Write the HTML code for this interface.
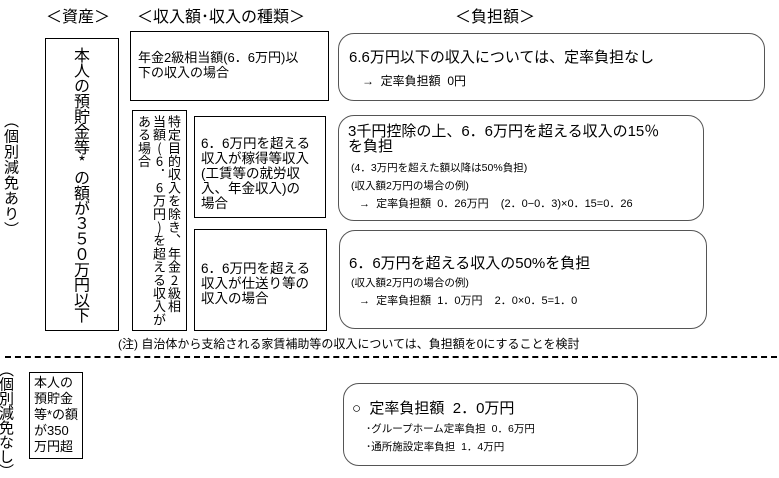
<!DOCTYPE html>
<html><head><meta charset="utf-8"><style>
body{margin:0;width:779px;height:474px;background:#fff;position:relative;overflow:hidden;font-family:"Liberation Sans","Noto Sans CJK JP",sans-serif;color:#000}
.a{position:absolute}
.b{position:absolute;border:1.3px solid #000;box-sizing:border-box}
.r{position:absolute;border:1.3px solid #555;border-radius:16px;box-sizing:border-box}
.v{writing-mode:vertical-rl;text-orientation:upright;font-family:"Noto Sans CJK JP",sans-serif;white-space:nowrap}
.vm{writing-mode:vertical-rl;font-family:"Noto Sans CJK JP",sans-serif;white-space:nowrap}
</style></head><body>
<div class="a" style="left:46px;top:3px;font-size:16px">＜資産＞</div>
<div class="a" style="left:137px;top:3px;font-size:16px">＜収入額･収入の種類＞</div>
<div class="a" style="left:455px;top:3px;font-size:16px">＜負担額＞</div>

<div class="a vm" style="left:3px;top:113px;font-size:15px;line-height:16px;letter-spacing:0.5px">（個別減免あり）</div>

<div class="b" style="left:45px;top:38px;width:74px;height:293px"></div>
<div class="a v" style="left:73px;top:47px;font-size:16px;line-height:18px;letter-spacing:-0.7px">本人の預貯金等*の額が３５０万円以下</div>

<div class="b" style="left:130px;top:31px;width:199px;height:70px"></div>
<div class="a" style="left:138px;top:50px;font-size:13px;line-height:15px;width:190px">年金2級相当額(6．6万円)以<br>下の収入の場合</div>

<div class="b" style="left:132px;top:110px;width:55px;height:221px"></div>
<div class="a v" style="left:137px;top:115px;font-size:13px;line-height:15px;letter-spacing:0.2px">特定目的収入を除き、年金2級相<br>当額(6．6万円)を超える収入が<br>ある場合</div>

<div class="b" style="left:194px;top:116px;width:132px;height:102px"></div>
<div class="a" style="left:201px;top:136px;font-size:13.5px;line-height:15px;width:122px">6．6万円を超える<br>収入が稼得等収入<br>(工賃等の就労収<br>入、年金収入)の<br>場合</div>

<div class="b" style="left:194px;top:229px;width:133px;height:102px"></div>
<div class="a" style="left:201px;top:261px;font-size:13.5px;line-height:15px;width:124px">6．6万円を超える<br>収入が仕送り等の<br>収入の場合</div>

<div class="r" style="left:338px;top:33px;width:427px;height:68px"></div>
<div class="a" style="left:349px;top:46px;font-size:15px">6.6万円以下の収入については、定率負担なし</div>
<div class="a" style="left:362px;top:72px;font-size:12px">→&nbsp; 定率負担額&nbsp; 0円</div>

<div class="r" style="left:338px;top:115px;width:366px;height:106px"></div>
<div class="a" style="left:348px;top:124px;font-size:15px;line-height:15px;width:350px">3千円控除の上、6．6万円を超える収入の15％<br>を負担</div>
<div class="a" style="left:351px;top:160px;font-size:10.5px">(4．3万円を超えた額以降は50%負担)</div>
<div class="a" style="left:351px;top:178px;font-size:10.5px">(収入額2万円の場合の例)</div>
<div class="a" style="left:359px;top:195px;font-size:11px;white-space:pre">→  定率負担額  0．26万円    (2．0−0．3)×0．15=0．26</div>

<div class="r" style="left:339px;top:230px;width:368px;height:99px"></div>
<div class="a" style="left:349px;top:252px;font-size:15px">6．6万円を超える収入の50%を負担</div>
<div class="a" style="left:351px;top:275px;font-size:10.5px">(収入額2万円の場合の例)</div>
<div class="a" style="left:359px;top:292px;font-size:11px;white-space:pre">→  定率負担額  1．0万円    2．0×0．5=1．0</div>

<div class="a" style="left:118px;top:335px;font-size:12px">(注) 自治体から支給される家賃補助等の収入については、負担額を0にすることを検討</div>
<div class="a" style="left:5px;top:356px;width:772px;border-top:2px dashed #000"></div>

<div class="a vm" style="left:-2px;top:362px;font-size:15px;line-height:16px;letter-spacing:-0.5px">（個別減免なし）</div>
<div class="b" style="left:29px;top:372px;width:54px;height:87px"></div>
<div class="a" style="left:34px;top:375px;font-size:13px;line-height:16px;width:50px">本人の<br>預貯金<br>等*の額<br>が350<br>万円超</div>

<div class="r" style="left:343px;top:383px;width:295px;height:83px"></div>
<div class="a" style="left:352px;top:397px;font-size:15px">○&nbsp; 定率負担額&nbsp; 2．0万円</div>
<div class="a" style="left:366px;top:421px;font-size:10.5px">･グループホーム定率負担&nbsp; 0．6万円</div>
<div class="a" style="left:366px;top:439px;font-size:10.5px">･通所施設定率負担&nbsp; 1．4万円</div>
</body></html>
